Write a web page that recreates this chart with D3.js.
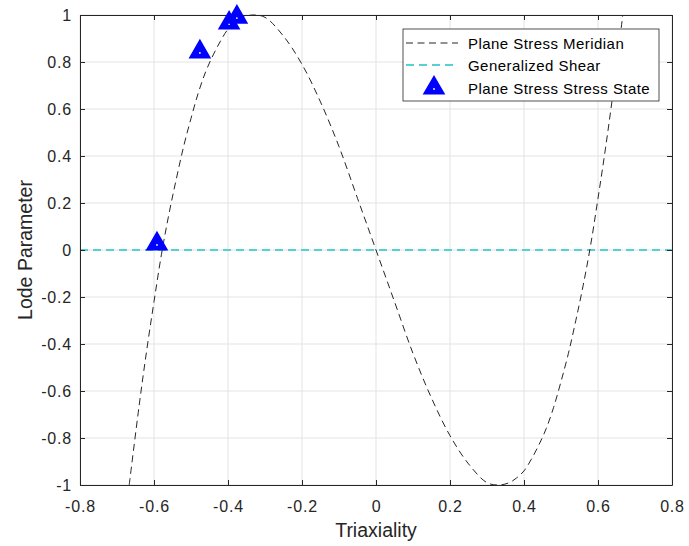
<!DOCTYPE html>
<html><head><meta charset="utf-8">
<script src="https://cdn.jsdelivr.net/npm/d3@7"></script>
<style>body{margin:0;background:#fff;} text{font-family:"Liberation Sans",Arial,sans-serif;}</style>
</head><body>
<svg id="chart" width="689" height="546"></svg>
<script>
// Data
const meridianX = [-0.667,-0.64,-0.62,-0.60,-0.58,-0.56,-0.54,-0.52,-0.50,-0.48,-0.46,-0.44,-0.42,-0.40,-0.38,-0.36,-0.333,-0.30,-0.25,-0.20,-0.15,-0.10,-0.05,0,0.05,0.10,0.15,0.20,0.25,0.30,0.333,0.36,0.38,0.40,0.42,0.44,0.46,0.48,0.50,0.52,0.54,0.56,0.58,0.60,0.62,0.64,0.667];
const meridianY = [-1.00,-0.66,-0.43,-0.22,-0.02,0.15,0.30,0.44,0.56,0.67,0.76,0.83,0.89,0.94,0.97,0.99,1.00,0.99,0.91,0.79,0.63,0.44,0.22,0,-0.22,-0.44,-0.63,-0.79,-0.91,-0.99,-1.00,-0.99,-0.97,-0.94,-0.89,-0.83,-0.76,-0.67,-0.56,-0.44,-0.30,-0.15,0.02,0.22,0.43,0.66,1.00];
const shearX = [-0.8, 0.8];
const shearY = [0, 0];
const stateX = [-0.592,-0.476,-0.397,-0.376];
const stateY = [0.026,0.843,0.966,0.991];
const xTicks = [-0.8,-0.6,-0.4,-0.2,0,0.2,0.4,0.6,0.8];
const yTicks = [-1,-0.8,-0.6,-0.4,-0.2,0,0.2,0.4,0.6,0.8,1];
const legendLabels = ["Plane Stress Meridian","Generalized Shear","Plane Stress Stress State"];

const svg = d3.select("#chart");
const L=80, R=672, T=15, B=485;
const x = d3.scaleLinear().domain([-0.8,0.8]).range([L,R]);
const y = d3.scaleLinear().domain([-1,1]).range([B,T]);
const axisColor="#262626";
const fam="'Liberation Sans',Arial,sans-serif";

// grid
const g = svg.append("g");
g.selectAll(".gx").data(xTicks).enter().append("line")
 .attr("x1",d=>x(d)).attr("x2",d=>x(d)).attr("y1",T).attr("y2",B)
 .attr("stroke","#e3e3e3").attr("stroke-width",1);
g.selectAll(".gy").data(yTicks).enter().append("line")
 .attr("y1",d=>y(d)).attr("y2",d=>y(d)).attr("x1",L).attr("x2",R)
 .attr("stroke","#e3e3e3").attr("stroke-width",1);

// clip
svg.append("clipPath").attr("id","clip").append("rect").attr("x",L).attr("y",T-1).attr("width",R-L).attr("height",B-T+2);
const plot = svg.append("g").attr("clip-path","url(#clip)");

// generalized shear
plot.append("path")
 .datum(shearX.map((d,i)=>[d,shearY[i]]))
 .attr("d",d3.line().x(d=>x(d[0])).y(d=>y(d[1])))
 .attr("fill","none").attr("stroke","#55d0d4").attr("stroke-width",2).attr("stroke-dasharray","8,5");

// meridian
plot.append("path")
 .datum(meridianX.map((d,i)=>[d,meridianY[i]]))
 .attr("d",d3.line().curve(d3.curveCatmullRom).x(d=>x(d[0])).y(d=>y(d[1])))
 .attr("fill","none").attr("stroke","#262626").attr("stroke-width",1).attr("stroke-dasharray","7,4.5");

// axes
const fmt = d=>String(d);
const xAxisB = d3.axisBottom(x).tickValues(xTicks).tickSizeInner(-5).tickSizeOuter(0).tickPadding(15.5).tickFormat(fmt);
const xAxisT = d3.axisTop(x).tickValues(xTicks).tickSizeInner(-5).tickSizeOuter(0).tickFormat("");
const yAxisL = d3.axisLeft(y).tickValues(yTicks).tickSizeInner(-5).tickSizeOuter(0).tickPadding(8).tickFormat(fmt);
const yAxisR = d3.axisRight(y).tickValues(yTicks).tickSizeInner(-5).tickSizeOuter(0).tickFormat("");
function style(sel){sel.select(".domain").attr("stroke",axisColor);sel.selectAll(".tick line").attr("stroke",axisColor);sel.selectAll("text").attr("fill",axisColor).style("font-size","16px").style("letter-spacing","0.8px").style("font-family",fam);}
svg.append("g").attr("transform",`translate(0,${B})`).call(xAxisB).call(style);
svg.append("g").attr("transform",`translate(0,${T})`).call(xAxisT).call(style);
svg.append("g").attr("transform",`translate(${L},0)`).call(yAxisL).call(style);
svg.append("g").attr("transform",`translate(${R},0)`).call(yAxisR).call(style);

// markers
const tri = d3.symbol().type(d3.symbolTriangle).size(160);
const mk = svg.append("g");
stateX.forEach((d,i)=>{
  mk.append("path").attr("d",tri()).attr("transform",`translate(${x(d)},${y(stateY[i])})`)
    .attr("fill","#0000ff").attr("stroke","#0000ff").attr("stroke-width",2).attr("stroke-linejoin","miter");
  mk.append("circle").attr("cx",x(d)).attr("cy",y(stateY[i])+1).attr("r",0.9).attr("fill","#fff");
});

// axis labels
svg.append("text").attr("x",(L+R)/2).attr("y",537).attr("text-anchor","middle").attr("fill",axisColor).style("font-size","19.5px").text("Triaxiality");
svg.append("text").attr("transform",`translate(32,${(T+B)/2}) rotate(-90)`).attr("text-anchor","middle").attr("fill",axisColor).style("font-size","19.5px").text("Lode Parameter");

// legend
const lg = svg.append("g");
lg.append("rect").attr("x",403).attr("y",29).attr("width",256).attr("height",72).attr("fill","#fff").attr("stroke","#262626").attr("stroke-width",0.8);
const rows=[43,65,88];
lg.append("line").attr("x1",406).attr("x2",458).attr("y1",rows[0]).attr("y2",rows[0]).attr("stroke","#262626").attr("stroke-width",1).attr("stroke-dasharray","7,4.5");
lg.append("line").attr("x1",406).attr("x2",458).attr("y1",rows[1]).attr("y2",rows[1]).attr("stroke","#55d0d4").attr("stroke-width",2).attr("stroke-dasharray","8,5");
lg.append("path").attr("d",tri()).attr("transform",`translate(434,${rows[2]})`).attr("fill","#0000ff").attr("stroke","#0000ff").attr("stroke-width",2);
lg.append("circle").attr("cx",434).attr("cy",rows[2]+1).attr("r",0.9).attr("fill","#fff");
legendLabels.forEach((t,i)=>{
  lg.append("text").attr("x",468).attr("y",rows[i]+5.5).attr("fill","#000").style("font-size","15px").style("letter-spacing","0.45px").text(t);
});
</script>
</body></html>
